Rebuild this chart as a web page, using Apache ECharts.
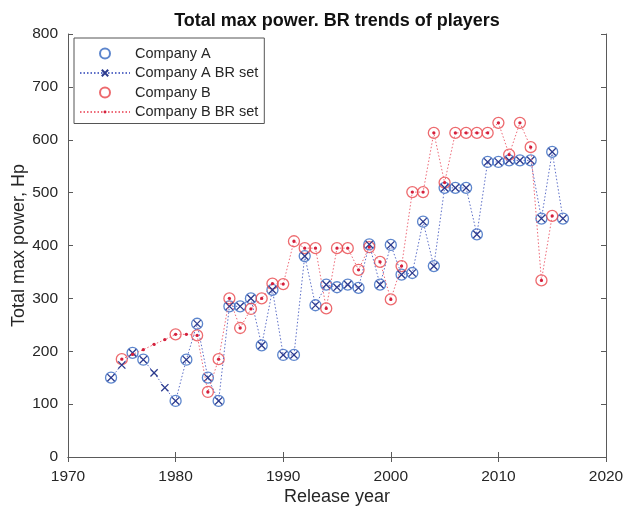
<!DOCTYPE html>
<html>
<head>
<meta charset="utf-8">
<script src="https://cdn.jsdelivr.net/npm/echarts@6/dist/echarts.min.js"></script>
<style>
html,body{margin:0;padding:0;background:#fff;}
#chart{width:625px;height:506px;}
</style>
</head>
<body>
<div id="chart"></div>
<script>
// ---- data ----
const titleText = 'Total max power. BR trends of players';
const xTicks = [1970, 1980, 1990, 2000, 2010, 2020];
const yTicks = [0, 100, 200, 300, 400, 500, 600, 700, 800];

// Company A BR set (one value per year)
const aYears = [1974,1975,1976,1977,1978,1979,1980,1981,1982,1983,1984,1985,1986,1987,1988,1989,1990,1991,1992,1993,1994,1995,1996,1997,1998,1999,2000,2001,2002,2003,2004,2005,2006,2007,2008,2009,2010,2011,2012,2013,2014,2015,2016];
const aPower = [150,174,197,184,159,131,106,184,252,150,106,285,285,300,211,316,193,193,380,287,326,321,326,320,402,326,401,345,348,445,361,509,509,509,421,558,558,561,561,561,451,577,451];
// years in the BR set with no Company A release (no circle)
const aBROnlyYears = [1975,1978,1979];

// Company B BR set (one value per year)
const bYears = [1975,1976,1977,1978,1979,1980,1981,1982,1983,1984,1985,1986,1987,1988,1989,1990,1991,1992,1993,1994,1995,1996,1997,1998,1999,2000,2001,2002,2003,2004,2005,2006,2007,2008,2009,2010,2011,2012,2013,2014,2015];
const bPower = [185,194,203,213,222,232,232,230,123,185,300,244,280,300,328,327,408,395,395,281,395,395,354,397,369,298,361,501,501,613,519,613,613,613,613,632,572,632,586,334,456];
const bBROnlyYears = [1976,1977,1978,1979,1981];

// ---- build series data ----
const aBR = aYears.map((y,i)=>[y,aPower[i]]);
const aModels = aBR.filter(p=>aBROnlyYears.indexOf(p[0])<0);
const bBR = bYears.map((y,i)=>[y,bPower[i]]);
const bModels = bBR.filter(p=>bBROnlyYears.indexOf(p[0])<0);

const FONT = '"Liberation Sans", Arial, Helvetica, sans-serif';
const TXT = '#262626';
const blueC = '#3468c0';
const blueX = '#2c3b8e';
const redC = '#e8454a';
const redD = '#d4203c';
// x cross inside a padded box (padding keeps mark size consistent in legend and plot)
const xPath = 'path://M0,0M20,20M2,2L18,18M18,2L2,18';
// small dot inside a padded box
const dotPath = 'path://M0,0M20,20M10,6.3A3.7,3.7,0,1,1,9.99,6.3Z';

const chart = echarts.init(document.getElementById('chart'), null, {renderer:'canvas'});
const frameAxis = {
  axisLine:{show:true,lineStyle:{color:'#5a5a5a',width:1}},
  axisTick:{show:true,inside:true,length:5,lineStyle:{color:'#5a5a5a'}},
  splitLine:{show:false}
};
chart.setOption({
  animation:false,
  backgroundColor:'#fff',
  textStyle:{fontFamily:FONT},
  title:{
    text:titleText, left:337, top:12, textAlign:'center', padding:0,
    textStyle:{fontFamily:FONT,fontSize:18,fontWeight:'bold',color:'#111'}
  },
  grid:{left:68,right:19,top:34,bottom:49,containLabel:false,outerBoundsMode:'none'},
  legend:{
    orient:'vertical', left:74, top:38,
    borderColor:'#555', borderWidth:1, backgroundColor:'#fff',
    padding:[8,6,4,5], itemGap:4.5, itemWidth:50, itemHeight:10,
    textStyle:{fontFamily:FONT,fontSize:14.5,color:TXT},
    data:['Company A','Company A BR set','Company B','Company B BR set']
  },
  xAxis:[
    Object.assign({type:'value',min:1970,max:2020,interval:10,position:'bottom',
      name:'Release year',nameLocation:'middle',nameGap:31,nameMoveOverlap:false,
      nameTextStyle:{fontFamily:FONT,fontSize:18,color:TXT},
      axisLabel:{fontFamily:FONT,fontSize:15.5,color:TXT,margin:12,
        formatter:v=>String(v)}},frameAxis),
    Object.assign({type:'value',min:1970,max:2020,interval:10,position:'top',axisLabel:{show:false}},frameAxis)
  ],
  yAxis:[
    Object.assign({type:'value',min:0,max:800,interval:100,position:'left',
      name:'Total max power, Hp',nameLocation:'middle',nameGap:40,nameMoveOverlap:false,
      nameTextStyle:{fontFamily:FONT,fontSize:18,color:TXT},
      axisLabel:{fontFamily:FONT,fontSize:15.5,color:TXT,margin:10,
        formatter:v=>String(v)}},frameAxis),
    Object.assign({type:'value',min:0,max:800,interval:100,position:'right',axisLabel:{show:false}},frameAxis)
  ],
  series:[
    {name:'Company A',type:'scatter',data:aModels,symbol:'circle',symbolSize:11,z:2,
      itemStyle:{color:'rgba(0,0,0,0)',borderColor:blueC,borderWidth:1.3}},
    {name:'Company A BR set',type:'line',data:aBR,symbol:xPath,symbolSize:9,showSymbol:true,z:3,
      lineStyle:{color:'#5d6fc8',width:1,type:[1.5,2]},
      itemStyle:{color:'rgba(0,0,0,0)',borderColor:blueX,borderWidth:1.3}},
    {name:'Company B',type:'scatter',data:bModels,symbol:'circle',symbolSize:11,z:2,
      itemStyle:{color:'rgba(0,0,0,0)',borderColor:redC,borderWidth:1.3}},
    {name:'Company B BR set',type:'line',data:bBR,symbol:dotPath,symbolSize:9,showSymbol:true,z:4,
      lineStyle:{color:'#ee6a78',width:1,type:[1.5,2]},
      itemStyle:{color:redD,borderWidth:0}}
  ]
});
</script>
</body>
</html>
